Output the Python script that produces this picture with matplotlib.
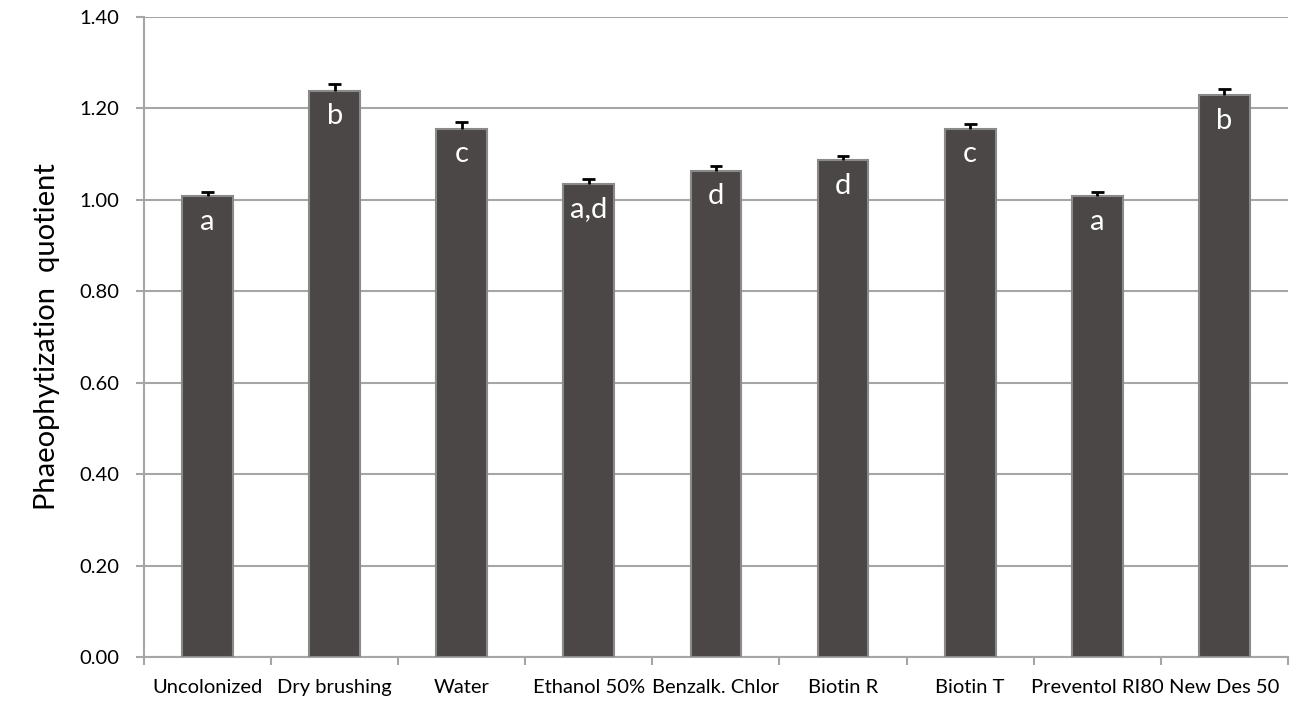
import matplotlib.pyplot as plt
import numpy as np

plt.rcParams['font.family'] = ['Lato', 'DejaVu Sans']

categories = ["Uncolonized", "Dry brushing", "Water", "Ethanol 50%", "Benzalk. Chlor",
              "Biotin R", "Biotin T", "Preventol RI80", "New Des 50"]
values = [1.008, 1.239, 1.155, 1.035, 1.064, 1.087, 1.155, 1.008, 1.229]
errors = [0.010, 0.014, 0.015, 0.011, 0.009, 0.009, 0.011, 0.010, 0.014]
letters = ["a", "b", "c", "a,d", "d", "d", "c", "a", "b"]

BAR = "#4b4746"
EDGE = "#8a8a8a"
GRID = "#a6a6a6"

fig = plt.figure(figsize=(12.97, 7.05), dpi=100)
ax = fig.add_axes([0.111, 0.068, 0.882, 0.908])

x = np.arange(len(categories))
vals = np.array(values)
errs = np.array(errors)
ax.bar(x, vals, width=0.4, color=BAR, edgecolor=EDGE, linewidth=1.5, zorder=3)
# only the upper half of the error bar, as in the original
ax.vlines(x, vals, vals + errs, color="black", linewidth=2, zorder=4)
ax.hlines(vals + errs, x - 0.05, x + 0.05, color="black", linewidth=2, zorder=4)

for xi, v, t in zip(x, vals, letters):
    ax.annotate(t, (xi, v), xytext=(0, -9), textcoords="offset points",
                ha="center", va="top", color="white", fontsize=21)

ax.set_xlim(-0.5, len(categories) - 0.5)
ax.set_ylim(0, 1.4)
yt = np.arange(0, 1.41, 0.2)
ax.set_yticks(yt)
ax.set_yticklabels([f"{t:.2f}" for t in yt], fontsize=14.5)
ax.set_xticks(x)
ax.set_xticklabels(categories, fontsize=14.5)
ax.set_xticks(np.arange(-0.5, len(categories), 1), minor=True)
ax.tick_params(axis="x", which="major", length=0, pad=16)
ax.tick_params(axis="x", which="minor", length=6, color=GRID, width=1.5)
ax.tick_params(axis="y", length=6, color=GRID, width=1.5, pad=12)

ax.grid(axis="y", color=GRID, linewidth=1.5, zorder=0)
ax.set_axisbelow(True)
for s in ["top", "right"]:
    ax.spines[s].set_visible(False)
for s in ["left", "bottom"]:
    ax.spines[s].set_color(GRID)
    ax.spines[s].set_linewidth(1.5)

ax.set_ylabel("Phaeophytization  quotient", fontsize=21, labelpad=14)

fig.savefig("out.png", dpi=100)
